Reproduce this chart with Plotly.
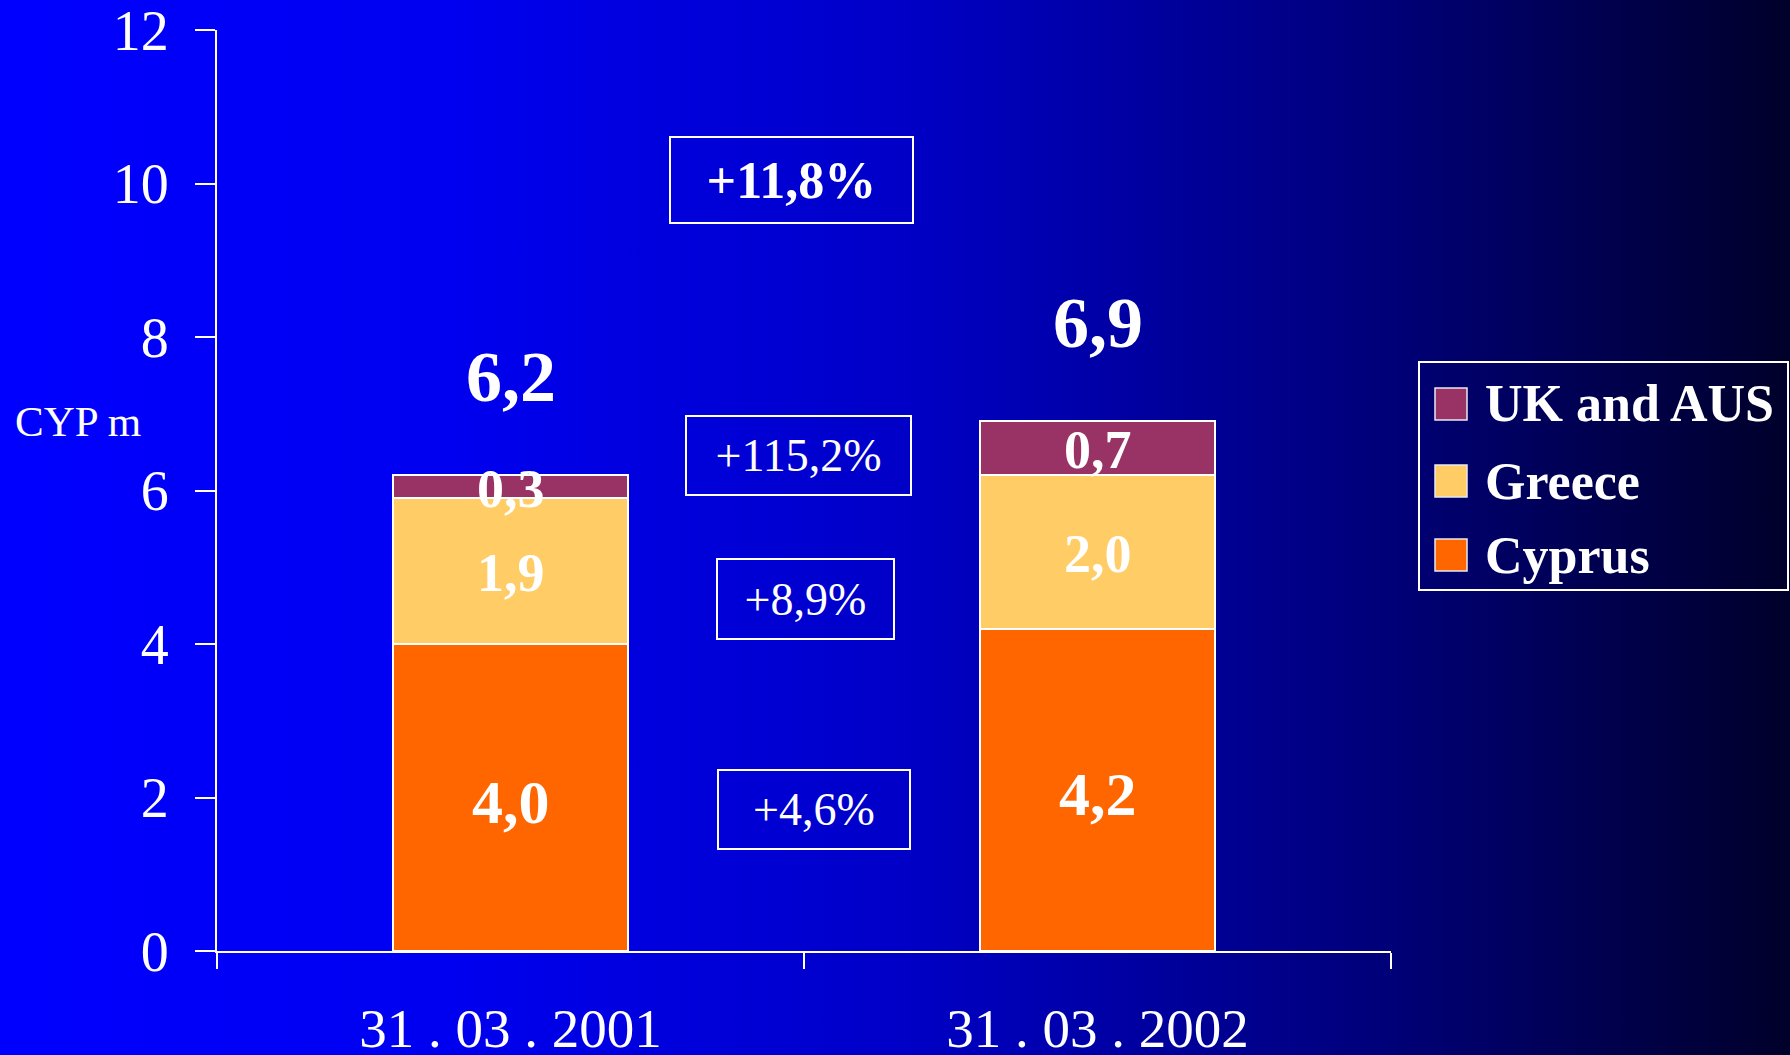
import base64
import plotly.graph_objects as go

# ---- data -------------------------------------------------------------
categories = ["31 . 03 . 2001", "31 . 03 . 2002"]
series_names = ["Cyprus", "Greece", "UK and AUS"]
cyprus = [4.0, 4.2]
greece = [1.9, 2.0]
uk_aus = [0.3, 0.7]
series_values = [cyprus, greece, uk_aus]
series_colors = ["#FF6600", "#FFCC66", "#993366"]

# growth figures shown in the boxes between the two bars
growth_labels = ["+4,6%", "+8,9%", "+115,2%", "+11,8%"]

y_ticks = [0, 2, 4, 6, 8, 10, 12]
y_title = "CYP m"

# ---- geometry ---------------------------------------------------------
W, H = 1790, 1055
M_L, M_R, M_T, M_B = 217, 399, 30, 104
PW, PH = W - M_L - M_R, H - M_T - M_B

FONT = "Liberation Serif, Times New Roman, serif"


def px_x(px):
    return (px - M_L) / PW


def px_y(py):
    return (H - M_B - py) / PH


def fmt(v):
    return f"{v:.1f}".replace(".", ",")


# horizontal blue-to-navy background gradient
stops = [(0.0, 255), (0.25, 240), (0.5, 200), (0.77, 122), (1.0, 42)]
stop_svg = "".join(
    f'<stop offset="{o}" stop-color="rgb(0,0,{b})"/>' for o, b in stops
)
svg = (
    f'<svg xmlns="http://www.w3.org/2000/svg" width="{W}" height="{H}" '
    f'viewBox="0 0 {W} {H}" preserveAspectRatio="none">'
    f'<defs><linearGradient id="g" x1="0" y1="0" x2="1" y2="0">{stop_svg}'
    f'</linearGradient></defs><rect width="{W}" height="{H}" fill="url(#g)"/></svg>'
)
bg_uri = "data:image/svg+xml;base64," + base64.b64encode(svg.encode()).decode()

fig = go.Figure()

for name, vals, col in zip(series_names, series_values, series_colors):
    fig.add_trace(
        go.Bar(
            x=categories,
            y=vals,
            name=name,
            width=0.4,
            marker=dict(color=col, line=dict(color="white", width=2)),
            showlegend=False,
            hoverinfo="skip",
        )
    )

annotations = []

# value labels inside each segment
for si, vals in enumerate(series_values):
    for ci, v in enumerate(vals):
        base = sum(series_values[k][ci] for k in range(si))
        annotations.append(
            dict(
                x=categories[ci], y=base + v / 2, xref="x", yref="y",
                yshift=-4 if si == 0 else -2,
                text=f"<b>{fmt(v)}</b>", showarrow=False,
                font=dict(family=FONT, size=62 if si == 0 else 54, color="white"),
            )
        )

# totals above the bars
for ci, cat in enumerate(categories):
    total = sum(s[ci] for s in series_values)
    annotations.append(
        dict(
            x=cat, y=total, xref="x", yref="y", yshift=98,
            text=f"<b>{fmt(total)}</b>", showarrow=False,
            font=dict(family=FONT, size=72, color="white"),
        )
    )

# growth boxes (x in category units, y in axis units, box size in px)
box_layout = [
    (0.517, 1.85, 190, 77, 46, False),
    (0.503, 4.59, 175, 78, 46, False),
    (0.490, 6.46, 223, 77, 46, False),
    (0.478, 10.05, 241, 84, 52, True),
]
for label, (bx, by, bw, bh, fs, bold) in zip(growth_labels, box_layout):
    annotations.append(
        dict(
            x=bx, y=by, xref="x", yref="y",
            text=f"<b>{label}</b>" if bold else label,
            showarrow=False, width=bw, height=bh, align="center", valign="middle",
            bordercolor="white", borderwidth=2, borderpad=0,
            font=dict(family=FONT, size=fs, color="white"),
        )
    )

# axis unit label
annotations.append(
    dict(
        x=px_x(13), y=px_y(422), xref="paper", yref="paper",
        xanchor="left", yanchor="middle", text=y_title, showarrow=False,
        font=dict(family=FONT, size=43, color="white"),
    )
)

# legend drawn as a framed block on the right
shapes = [
    dict(
        type="rect", xref="paper", yref="paper",
        x0=px_x(1419), x1=px_x(1788), y0=px_y(590), y1=px_y(362),
        line=dict(color="white", width=2), fillcolor="rgba(0,0,0,0)",
    )
]
legend_rows = [404, 481, 555]
legend_order = [2, 1, 0]
for row_y, si in zip(legend_rows, legend_order):
    shapes.append(
        dict(
            type="rect", xref="paper", yref="paper",
            x0=px_x(1435), x1=px_x(1467), y0=px_y(row_y + 16), y1=px_y(row_y - 16),
            line=dict(color="#E8E8F0", width=1.5), fillcolor=series_colors[si],
        )
    )
    annotations.append(
        dict(
            x=px_x(1483), y=px_y(row_y), xref="paper", yref="paper",
            xanchor="left", yanchor="middle",
            text=f"<b>{series_names[si]}</b>", showarrow=False,
            font=dict(family=FONT, size=52, color="white"),
        )
    )

fig.update_layout(
    width=W, height=H, autosize=False,
    margin=dict(l=M_L, r=M_R, t=M_T, b=M_B, pad=0, autoexpand=False),
    barmode="stack",
    paper_bgcolor="#0000C0",
    plot_bgcolor="rgba(0,0,0,0)",
    showlegend=False,
    annotations=annotations,
    shapes=shapes,
    images=[
        dict(
            source=bg_uri, xref="paper", yref="paper",
            x=px_x(0), y=px_y(0), sizex=W / PW, sizey=H / PH,
            xanchor="left", yanchor="top", sizing="stretch", layer="below",
        )
    ],
    xaxis=dict(
        type="category", range=[-0.5, 1.5], tickson="boundaries",
        ticks="outside", ticklen=16, tickwidth=2, tickcolor="white",
        showline=True, linecolor="white", linewidth=2, showgrid=False,
        tickfont=dict(family=FONT, size=55, color="white"),
        ticklabelstandoff=28, ticklabeloverflow="allow", automargin=False,
    ),
    yaxis=dict(
        range=[0, 12], tickvals=y_ticks, ticks="outside", ticklen=20,
        tickwidth=2, tickcolor="white", showline=True, linecolor="white",
        linewidth=2, showgrid=False, zeroline=False,
        tickfont=dict(family=FONT, size=56, color="white"),
        ticklabelstandoff=15, ticklabeloverflow="allow", automargin=False,
    ),
)

fig.write_html("out.html")
